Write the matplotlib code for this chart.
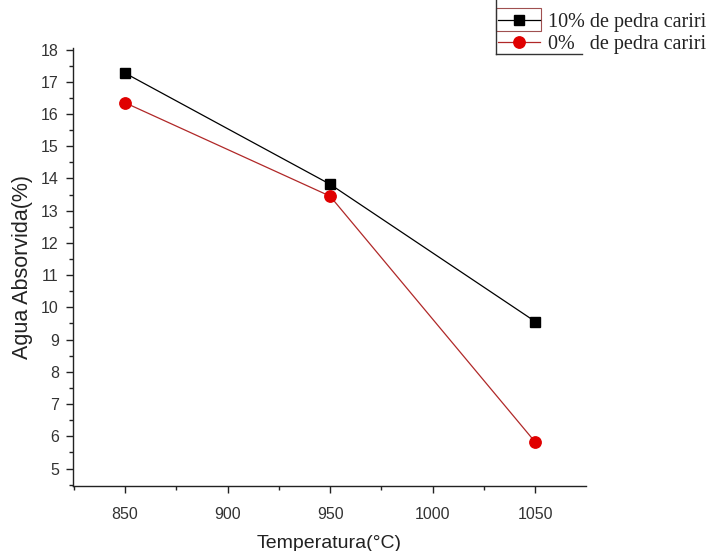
import matplotlib
matplotlib.use("Agg")
import matplotlib.pyplot as plt
from matplotlib.lines import Line2D
from matplotlib.patches import Rectangle
from matplotlib.ticker import MultipleLocator

temperatures = [850, 950, 1050]
agua_10 = [17.27, 13.82, 9.56]
agua_0 = [16.35, 13.45, 5.82]
label_10 = "10% de pedra cariri"
label_0 = "0%   de pedra cariri"
xlabel = "Temperatura(°C)"
ylabel = "Agua Absorvida(%)"

plt.rcParams['font.family'] = ['Liberation Sans', 'DejaVu Sans']

fig = plt.figure(figsize=(7.09, 5.51), dpi=100)
ax = fig.add_axes([0.1025, 0.1175, 0.7236, 0.7955])

ax.plot(temperatures, agua_10, color='black', lw=0.9, marker='s', ms=7.8,
        mfc='black', mec='black', label=label_10, zorder=3)
ax.plot(temperatures, agua_0, color='#b02828', lw=0.9, marker='o', ms=8.2,
        mfc='#e00000', mec='#e00000', label=label_0, zorder=3)

ax.set_xlim(824.5, 1074.6)
ax.set_ylim(4.45, 18.05)
ax.xaxis.set_major_locator(MultipleLocator(50))
ax.xaxis.set_minor_locator(MultipleLocator(25))
ax.yaxis.set_major_locator(MultipleLocator(1))
ax.yaxis.set_minor_locator(MultipleLocator(0.5))

for s in ['top', 'right']:
    ax.spines[s].set_visible(False)
for s in ['left', 'bottom']:
    ax.spines[s].set_linewidth(1.0)
    ax.spines[s].set_color('#222222')

ax.tick_params(axis='both', which='major', direction='out', length=5, width=1,
               colors='#222222', labelsize=11.5, labelcolor='#333333')
ax.tick_params(axis='both', which='minor', direction='out', length=3, width=1,
               colors='#222222')
ax.tick_params(axis='x', which='major', pad=10)
ax.tick_params(axis='y', which='major', pad=5)

ax.set_xlabel(xlabel, fontsize=14, color='#222222', labelpad=9)
ax.set_ylabel(ylabel, fontsize=15.5, color='#222222', labelpad=6)

leg = fig.legend(loc='upper left', bbox_to_anchor=(0.7024, 0.976),
                 frameon=False, borderpad=0, borderaxespad=0,
                 handlelength=2.1, handletextpad=0.4, labelspacing=0.12,
                 prop={'family': ['Liberation Serif', 'DejaVu Serif'], 'size': 14.5})
for t in leg.get_texts():
    t.set_color('#222222')

# legend decoration lines
W, H = 709.0, 551.0
fig.add_artist(Line2D([496 / W, 496 / W], [1.0, 1 - 54 / H], transform=fig.transFigure,
                      color='#333333', lw=1))
fig.add_artist(Line2D([496 / W, 582 / W], [1 - 54 / H, 1 - 54 / H], transform=fig.transFigure,
                      color='#333333', lw=1))
fig.add_artist(Rectangle((496 / W, 1 - 31 / H), 45 / W, 23 / H, transform=fig.transFigure,
                         fill=False, ec='#a05050', lw=0.8))

fig.savefig("out.png", dpi=100)
